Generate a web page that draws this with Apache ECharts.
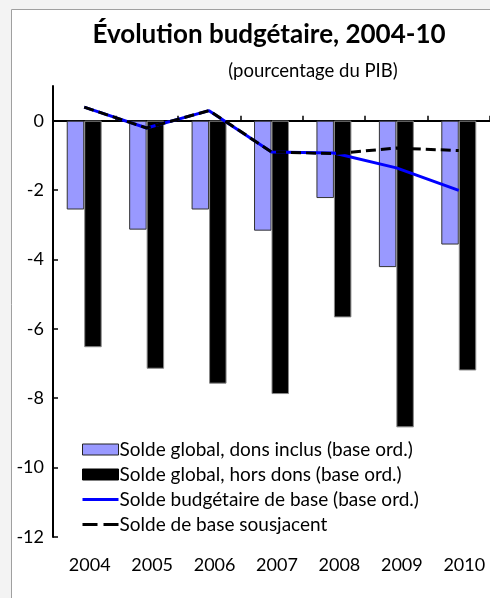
<!DOCTYPE html>
<html><head><meta charset="utf-8">
<script src="https://cdn.jsdelivr.net/npm/echarts@6/dist/echarts.min.js"></script>
<style>html,body{margin:0;padding:0;background:#fff}#c{width:490px;height:598px}</style>
</head><body><div id="c"></div>
<script>
const categories = ['2004','2005','2006','2007','2008','2009','2010'];
const soldeDonsInclus = [-2.56, -3.14, -2.56, -3.17, -2.23, -4.22, -3.57];
const soldeHorsDons = [-6.53, -7.15, -7.58, -7.88, -5.67, -8.84, -7.20];
const soldeBase = [0.39, -0.21, 0.29, -0.90, -0.93, -1.36, -2.01];
const soldeSousjacent = [0.39, -0.21, 0.29, -0.90, -0.95, -0.79, -0.86];
const yTicks = [-12, -10, -8, -6, -4, -2, 0];
const names = ['Solde global, dons inclus (base ord.)','Solde global, hors dons (base ord.)','Solde budgétaire de base (base ord.)','Solde de base sousjacent'];
const FONT = 'Lato';
const chart = echarts.init(document.getElementById('c'));
chart.setOption({
  animation: false,
  backgroundColor: '#fff',
  graphic: [
    {type:'rect', shape:{x:0,y:0,width:490,height:9}, style:{fill:'#f3f3f3'}, z:-1},
    {type:'rect', shape:{x:0,y:0,width:11,height:598}, style:{fill:'#f3f3f3'}, z:-1},
    {type:'rect', shape:{x:11.5,y:9.5,width:490,height:600}, style:{fill:'#fff', stroke:'#a0a0a0', lineWidth:1}, z:-1}
  ],
  title: [
    {text:'Évolution budgétaire, 2004-10', left:264, top:17, textAlign:'center',
     textStyle:{fontFamily:FONT, fontSize:26, fontWeight:'bold', color:'#000'}},
    {text:'(pourcentage du PIB)', left:308, top:57, textAlign:'center',
     textStyle:{fontFamily:FONT, fontSize:18.5, fontWeight:'normal', color:'#000'}}
  ],
  legend: {
    orient:'vertical', left:77, top:435, itemWidth:36, itemHeight:11, itemGap:6,
    data: [
      {name:names[0], icon:'rect', itemStyle:{color:'#9999ff', borderColor:'#222', borderWidth:1}},
      {name:names[1], icon:'rect', itemStyle:{color:'#000', borderColor:'#000', borderWidth:1}},
      {name:names[2], icon:'path://M0,0h36v3h-36z', itemStyle:{color:'#0000ff', borderWidth:0}},
      {name:names[3], icon:'path://M0,0h15v3h-15zM21,0h15v3h-15z', itemStyle:{color:'#000', borderWidth:0}}
    ],
    textStyle:{fontFamily:FONT, fontSize:19, color:'#000', lineHeight:19, padding:[0,0,0,-4]}
  },
  grid: {left:53, right:0, top:86, bottom:61, containLabel:false},
  xAxis: [
    {type:'category', data:categories, position:'bottom',
     axisLine:{onZero:true, lineStyle:{color:'#000', width:2}},
     axisTick:{show:true, inside:true, length:5, lineStyle:{color:'#000', width:1.5}},
     axisLabel:{show:false}, splitLine:{show:false}},
    {type:'category', data:categories, position:'bottom',
     axisLine:{show:false, onZero:false}, axisTick:{show:false}, splitLine:{show:false},
     axisLabel:{show:true, margin:19, padding:[0,0,0,11], fontFamily:FONT, fontSize:18, color:'#000'}}
  ],
  yAxis: {
    type:'value', min:-12, max:1, interval:2,
    axisLine:{show:true, lineStyle:{color:'#000', width:2}},
    axisTick:{show:true, inside:true, length:5, customValues:yTicks, lineStyle:{color:'#000', width:1.5}},
    axisLabel:{customValues:yTicks, margin:9, fontFamily:FONT, fontSize:18, color:'#000'},
    splitLine:{show:false}
  },
  series: [
    {name:names[0], type:'bar', data:soldeDonsInclus, barGap:'0%', barCategoryGap:'44%',
     itemStyle:{color:'#9999ff', borderColor:'#333', borderWidth:1}},
    {name:names[1], type:'bar', data:soldeHorsDons,
     itemStyle:{color:'#000', borderColor:'#888', borderWidth:1}},
    {name:names[2], type:'line', data:soldeBase, symbol:'none', z:3,
     lineStyle:{color:'#0000ff', width:3}, itemStyle:{color:'#0000ff'}},
    {name:names[3], type:'line', data:soldeSousjacent, symbol:'none', z:4,
     lineStyle:{color:'#000', width:3, type:[10,5]}, itemStyle:{color:'#000'}}
  ]
});
</script></body></html>
